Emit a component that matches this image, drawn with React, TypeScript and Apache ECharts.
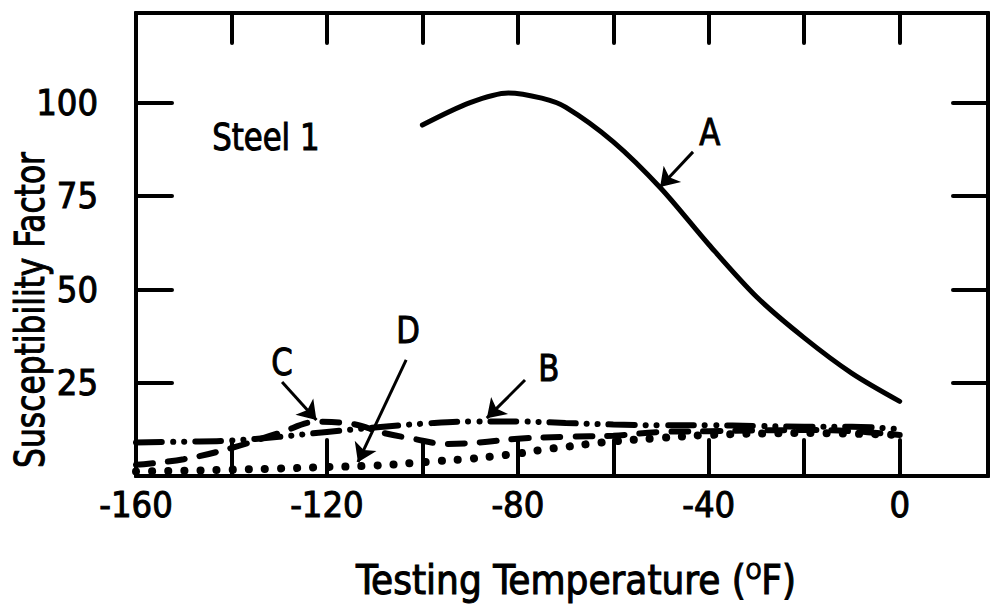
import React, { useEffect, useRef } from "react";
import * as echarts from "echarts";

// Testing temperature (°F) / susceptibility factor readings for Steel 1
const tempA = [-100, -90, -82, -75, -70, -60, -50, -40, -30, -20, -10, 0];
const factorA = [94, 100, 102.6, 101.2, 98.8, 89.5, 77, 62, 48, 37, 27.5, 20];

const tempB = [-160, -150, -140, -130, -120, -110, -100, -90, -80, -70, -60, -50, -40, -30, -20, -10, 0];
const factorB = [9, 9.2, 9.5, 10.5, 11.8, 13, 14, 14.6, 14.6, 14.2, 13.8, 13.6, 13.6, 13.4, 13.2, 13.2, 12.5];

const tempC = [-160, -150, -140, -130, -122, -115, -108, -102, -95, -88, -80, -70, -60, -50, -40, -30, -20, -10, 0];
const factorC = [3, 4.5, 7.5, 11.5, 14.5, 14, 11.5, 10, 8.6, 9, 10, 10.5, 10.8, 11.8, 12, 12.2, 12.3, 12, 11];

const tempD = [-160, -150, -140, -130, -120, -110, -102, -97, -90, -85, -80, -75, -70, -65, -60, -50, -40, -20, 0];
const factorD = [1.2, 1.4, 1.7, 2, 2.4, 2.8, 3.5, 4, 4.6, 5.3, 6, 7, 7.8, 8.6, 9.3, 10.2, 11, 11.5, 11];

// Axis tick labels
const xTickLabels = [-160, -120, -80, -40, 0];
const yTickLabels = [25, 50, 75, 100];

// In-plot annotations (data coordinates)
const noteTexts = ["Steel 1", "A", "B", "C", "D"];
const noteX = [-132.8, -39.8, -73.5, -129.4, -103];
const noteY = [90.8, 92.1, 28.9, 30.5, 39.1];

const arrowFromX = [-43.3, -78.5, -129.4, -103.4];
const arrowFromY = [86.8, 25.7, 25.2, 31.1];
const arrowToX = [-50.2, -86.5, -122.2, -113.5];
const arrowToY = [77.4, 15.5, 15, 3.7];

const FONT = "'DejaVu Sans Condensed', 'DejaVu Sans', sans-serif";

const pairs = (xs: number[], ys: number[]) => xs.map((x, i) => [x, ys[i]]);

export default function App() {
  const ref = useRef<HTMLDivElement>(null);

  useEffect(() => {
    if (!ref.current) return;
    const chart = echarts.init(ref.current, null, { renderer: "svg" });

    const axisLine = { show: true, onZero: false, lineStyle: { color: "#000", width: 4 } };
    const tick = (len: number) => ({
      show: true,
      inside: true,
      length: len,
      lineStyle: { color: "#000", width: 4, cap: "round" as const },
    });
    const labelText = {
      color: "#000",
      fontFamily: FONT,
      fontSize: 36,
      textBorderColor: "#000",
      textBorderWidth: 1,
    };

    const option: echarts.EChartsOption = {
      animation: false,
      backgroundColor: "#fff",
      grid: { left: 136, right: 4, top: 13, bottom: 131, containLabel: false },
      xAxis: [
        {
          type: "value",
          min: -160,
          max: 18.5,
          interval: 20,
          position: "bottom",
          axisLine,
          axisTick: tick(36),
          splitLine: { show: false },
          axisLabel: {
            ...labelText,
            margin: 10,
            formatter: (v: number) => (xTickLabels.includes(v) ? String(v) : ""),
          },
        },
        {
          type: "value",
          min: -160,
          max: 18.5,
          interval: 20,
          position: "top",
          axisLine,
          axisTick: tick(30),
          splitLine: { show: false },
          axisLabel: { show: false },
        },
      ],
      yAxis: [
        {
          type: "value",
          min: 0,
          max: 124,
          interval: 25,
          position: "left",
          axisLine,
          axisTick: tick(36),
          splitLine: { show: false },
          axisLabel: {
            ...labelText,
            margin: 38,
            formatter: (v: number) => (yTickLabels.includes(v) ? String(v) : ""),
          },
        },
        {
          type: "value",
          min: 0,
          max: 124,
          interval: 25,
          position: "right",
          axisLine,
          axisTick: tick(35),
          splitLine: { show: false },
          axisLabel: { show: false },
        },
      ],
      graphic: [
        {
          type: "text",
          x: 30,
          y: 310,
          rotation: Math.PI / 2,
          scaleX: 0.85,
          style: {
            text: "Susceptibility Factor",
            fill: "#000",
            stroke: "#000",
            lineWidth: 1,
            font: `41px ${FONT}`,
            textAlign: "center",
            textVerticalAlign: "middle",
          },
        },
        {
          type: "text",
          x: 576,
          y: 580,
          style: {
            text: "Testing Temperature ({sup|O}F)",
            fill: "#000",
            stroke: "#000",
            lineWidth: 1,
            font: `40px ${FONT}`,
            lineHeight: 40,
            textAlign: "center",
            textVerticalAlign: "middle",
            rich: {
              sup: { fontFamily: FONT, fontSize: 22, verticalAlign: "top", lineHeight: 40 },
            },
          },
        },
      ],
      series: [
        {
          name: "A",
          type: "line",
          data: pairs(tempA, factorA),
          smooth: 0.3,
          symbol: "none",
          lineStyle: { color: "#000", width: 5, cap: "round" },
        },
        {
          name: "B",
          type: "line",
          data: pairs(tempB, factorB),
          smooth: 0.4,
          symbol: "none",
          lineStyle: { color: "#000", width: 6, cap: "round", type: [26, 11, 0.1, 11, 0.1, 11] },
        },
        {
          name: "C",
          type: "line",
          data: pairs(tempC, factorC),
          smooth: 0.4,
          symbol: "none",
          lineStyle: { color: "#000", width: 6, cap: "round", type: [17, 15] },
        },
        {
          name: "D",
          type: "line",
          data: pairs(tempD, factorD),
          smooth: 0.4,
          symbol: "none",
          lineStyle: { color: "#000", width: 8, cap: "round", type: [0.1, 16] },
        },
        {
          name: "arrows",
          type: "lines",
          coordinateSystem: "cartesian2d",
          symbol: ["none", "arrow"],
          symbolSize: [9, 18],
          lineStyle: { color: "#000", width: 3, opacity: 1, curveness: 0 },
          data: arrowFromX.map((x, i) => ({
            coords: [
              [x, arrowFromY[i]],
              [arrowToX[i], arrowToY[i]],
            ],
          })),
        },
        {
          name: "notes",
          type: "custom",
          silent: true,
          data: noteX.map((x, i) => [x, noteY[i]]),
          renderItem: (params: any, api: any) => {
            const p = api.coord([api.value(0), api.value(1)]);
            return {
              type: "text",
              x: p[0],
              y: p[1],
              scaleX: 0.9,
              style: {
                text: noteTexts[params.dataIndex],
                fill: "#000",
                stroke: "#000",
                lineWidth: 1,
                font: `38px ${FONT}`,
                textAlign: "center",
                textVerticalAlign: "middle",
              },
            };
          },
        },
      ],
    };

    chart.setOption(option);
    return () => chart.dispose();
  }, []);

  return (
    <div
      ref={ref}
      style={{ position: "fixed", left: 0, top: 0, width: 992, height: 607, background: "#fff" }}
    />
  );
}
